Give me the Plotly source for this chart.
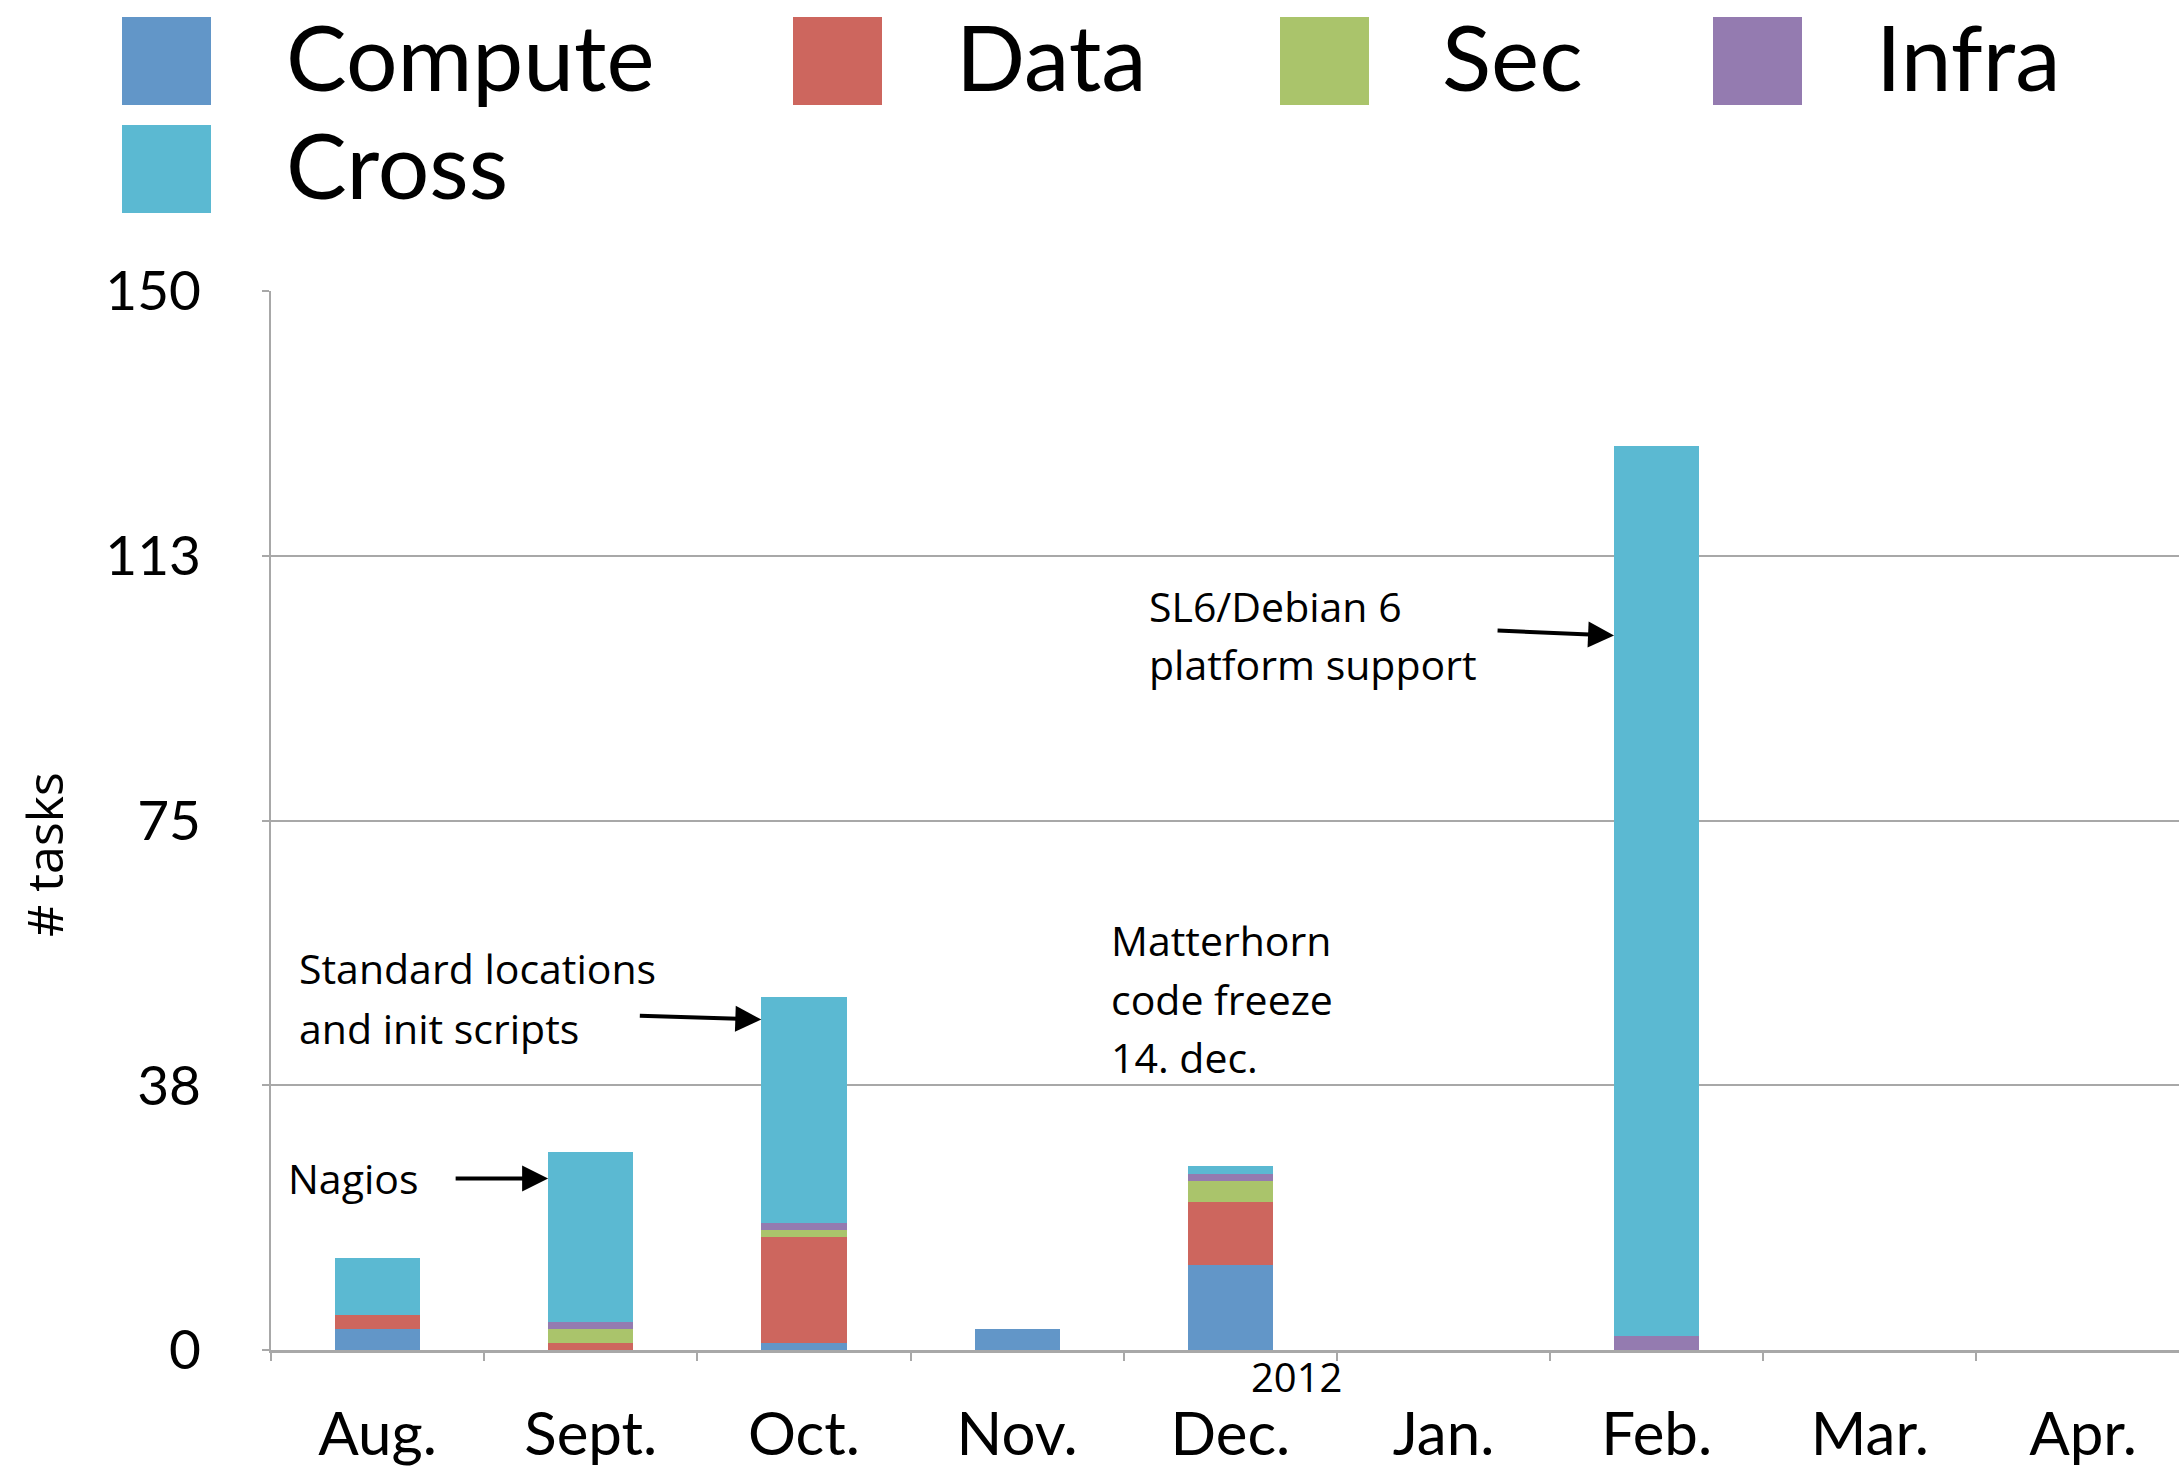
import plotly.graph_objects as go

# ---------------- data ----------------
months = ["Aug.", "Sept.", "Oct.", "Nov.", "Dec.", "Jan.", "Feb.", "Mar.", "Apr."]
compute = [3, 0, 1, 3, 12, 0, 0, 0, 0]
data_ = [2, 1, 15, 0, 9, 0, 0, 0, 0]
sec = [0, 2, 1, 0, 3, 0, 0, 0, 0]
infra = [0, 1, 1, 0, 1, 0, 2, 0, 0]
cross = [8, 24, 32, 0, 1, 0, 126, 0, 0]
series_names = ["Compute", "Data", "Sec", "Infra", "Cross"]
y_tickvals = [0, 37.5, 75, 112.5, 150]
y_ticktext = ["0", "38", "75", "113", "150"]
year_label = "2012"

colors = {"Compute": "#6296C8", "Data": "#CD665E", "Sec": "#AAC46B",
          "Infra": "#947BB0", "Cross": "#5BB9D2"}
series_values = {"Compute": compute, "Data": data_, "Sec": sec,
                 "Infra": infra, "Cross": cross}

W, H = 2179, 1468
L, R, T, B = 271, 0, 291, 118
PW, PH = W - L - R, H - T - B

def px_x(px):
    return (px - L) / PW

def px_y(py):
    return (H - B - py) / PH

fig = go.Figure()
for name in series_names:
    fig.add_trace(go.Bar(x=months, y=series_values[name], name=name,
                         marker=dict(color=colors[name], line=dict(width=0)),
                         width=0.4, showlegend=False))

GILL = "Lato, 'Open Sans', sans-serif"
CAL = "'Open Sans', 'Noto Sans', sans-serif"
grid = "#A8A8A8"

fig.update_layout(
    width=W, height=H, barmode="stack",
    margin=dict(l=L, r=R, t=T, b=B, pad=0, autoexpand=False),
    plot_bgcolor="white", paper_bgcolor="white",
    xaxis=dict(type="category", range=[-0.5, 8.45], showgrid=False,
               automargin=False,
               showline=True, linecolor=grid, linewidth=3,
               ticks="outside", tickson="boundaries", ticklen=8,
               tickcolor=grid, tickwidth=2,
               tickfont=dict(family=GILL, size=60, color="black"),
               ticklabelstandoff=30),
    yaxis=dict(range=[0, 150], tickvals=y_tickvals, ticktext=y_ticktext,
               automargin=False,
               showgrid=True, gridcolor=grid, gridwidth=2,
               showline=True, linecolor=grid, linewidth=2,
               ticks="outside", ticklen=7, tickcolor=grid, tickwidth=2,
               tickfont=dict(family=GILL, size=55, color="black"),
               ticklabelstandoff=50, zeroline=False),
)

# ---------------- manual legend ----------------
legend_pos = [("Compute", 122, 17, 284, 56), ("Data", 793, 17, 954, 56),
              ("Sec", 1280, 17, 1440, 56), ("Infra", 1713, 17, 1874, 56),
              ("Cross", 122, 125, 284, 164)]
for name, sx, sy, tx, ty in legend_pos:
    fig.add_shape(type="rect", xref="paper", yref="paper",
                  x0=px_x(sx), x1=px_x(sx + 89), y0=px_y(sy + 88), y1=px_y(sy),
                  fillcolor=colors[name], line=dict(width=0))
    fig.add_annotation(xref="paper", yref="paper", x=px_x(tx), y=px_y(ty),
                       text=name, showarrow=False, xanchor="left", yanchor="middle",
                       font=dict(family=GILL, size=91, color="black"))

# ---------------- axis title & year ----------------
fig.add_annotation(xref="paper", yref="paper", x=px_x(44), y=px_y(855),
                   text="# tasks", textangle=-90, showarrow=False,
                   xanchor="center", yanchor="middle",
                   font=dict(family=CAL, size=50, color="black"))
fig.add_annotation(xref="x", yref="paper", x=4.31, y=px_y(1376),
                   text=year_label, showarrow=False, xanchor="center", yanchor="middle",
                   font=dict(family=CAL, size=40, color="black"))

# ---------------- callouts ----------------
callouts = [
    (-0.43, [("Nagios", 24.4)]),
    (-0.38, [("Standard locations", 54.1), ("and init scripts", 45.6)]),
    (3.43, [("Matterhorn", 58.1), ("code freeze", 49.7), ("14. dec.", 41.5)]),
    (3.61, [("SL6/Debian 6", 105.4), ("platform support", 97.2)]),
]
for xpos, lines in callouts:
    for txt, ypos in lines:
        fig.add_annotation(xref="x", yref="y", x=xpos, y=ypos, text=txt,
                           showarrow=False, xanchor="left", yanchor="middle",
                           font=dict(family=CAL, size=41, color="black"))

arrows = [(0.8, 24.3, -94, 0), (1.8, 46.8, -123, -4), (5.8, 101.2, -118, -5)]
for hx, hy, ax, ay in arrows:
    fig.add_annotation(xref="x", yref="y", x=hx, y=hy, ax=ax, ay=ay, text="",
                       showarrow=True, arrowhead=2, arrowsize=1.3, arrowwidth=4,
                       arrowcolor="black", standoff=0)

fig.write_html("out.html", config={"displayModeBar": False},
               post_script="document.body.style.margin='0';document.body.style.overflow='hidden';")
